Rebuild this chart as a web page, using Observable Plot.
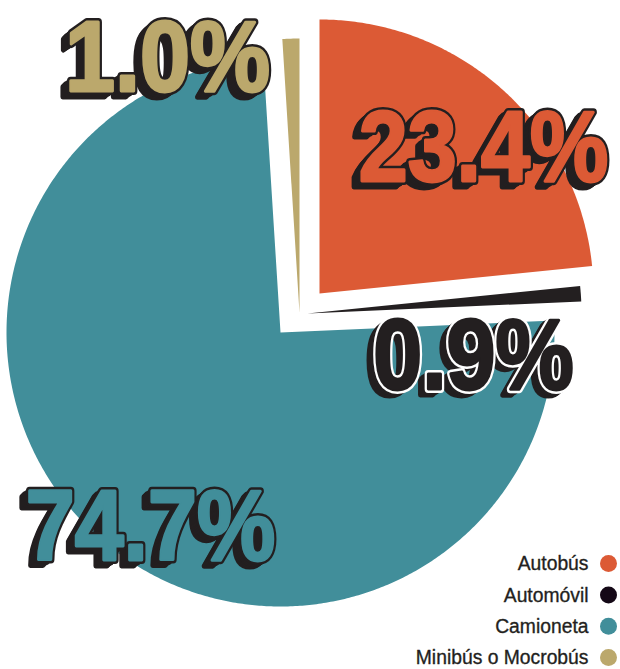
<!DOCTYPE html>
<html><head><meta charset="utf-8">
<script src="https://cdn.jsdelivr.net/npm/d3@7"></script>
<script src="https://cdn.jsdelivr.net/npm/@observablehq/plot@0.6"></script>
<style>body{margin:0;background:#fff} #chart{width:620px;height:669px}</style>
</head><body><div id="chart"></div>
<script>
// ---- data ----
const categories = ["Autobús", "Automóvil", "Camioneta", "Minibús o Mocrobús"];
const shares = [23.4, 0.9, 74.7, 1.0];
const labels = ["23.4%", "0.9%", "74.7%", "1.0%"];
const colors = ["#DC5A35", "#231F20", "#418E9A", "#BBA86C"];
const legendColors = ["#DC5A35", "#140816", "#418E9A", "#BBA86C"];

// ---- style / layout ----
const W = 620, H = 669, R = 274, CX = 280, CY = 332;
const explode = [[39, 39], [27, 19], [0, 0], [19, 20]];           // px (right, up)
const labelNudge = [[164, -145], [166, 43], [-130, 195], [-132, -254]]; // px from slice apex
const labelScale = [0.88, 0.88, 0.88, 0.9];
const labelStroke = ["#231F20", "#ffffff", "#231F20", "#231F20"];
const dark = "#231F20";
const labelFont = "'Liberation Sans', Arial, sans-serif";

const arcs = d3.pie().sort(null).value(d => d)(shares);

const marks = [];
arcs.forEach((a, i) => {
  const ox = explode[i][0] / R, oy = explode[i][1] / R;
  const pts = [{x: ox, y: oy}];
  const n = Math.max(4, Math.ceil((a.endAngle - a.startAngle) / (Math.PI / 360)));
  for (let k = 0; k <= n; k++) {
    const t = a.startAngle + (a.endAngle - a.startAngle) * k / n;
    pts.push({x: ox + Math.sin(t), y: oy + Math.cos(t)});
  }
  pts.push({x: ox, y: oy});
  marks.push(Plot.line(pts, {x: "x", y: "y", fill: colors[i], stroke: "none", curve: "linear"}));
});

// labels with extruded shadow
arcs.forEach((a, i) => {
  const ox = explode[i][0] / R, oy = explode[i][1] / R;
  const d = [{x: ox, y: oy, t: labels[i]}];
  const common = {x: "x", y: "y", text: "t", fontSize: 100, fontWeight: "bold",
    fontFamily: labelFont, textAnchor: "middle", lineAnchor: "middle", className: "biglabel" + i};
  const [nx, ny] = labelNudge[i];
  for (let k = 8; k >= 1; k--) {
    marks.push(Plot.text(d, {...common, dx: nx - k, dy: ny + k * 0.75,
      fill: dark, stroke: dark, strokeWidth: 5}));
  }
  // outline
  marks.push(Plot.text(d, {...common, dx: nx, dy: ny,
    fill: colors[i], stroke: labelStroke[i], strokeWidth: 8, paintOrder: "stroke"}));
  // thickened fill
  marks.push(Plot.text(d, {...common, dx: nx, dy: ny,
    fill: colors[i], stroke: colors[i], strokeWidth: 3}));
});

// legend (bottom right)
const rowGap = 31.3;
categories.forEach((c, i) => {
  const fromBottom = categories.length - 1 - i;
  const dy = -12 - fromBottom * rowGap;
  marks.push(Plot.text([c], {frameAnchor: "bottom-right", text: d => d, dx: -32, dy,
    textAnchor: "end", lineAnchor: "middle", fontSize: 21, fill: "#231F20",
    stroke: "#231F20", strokeWidth: 0.35,
    fontFamily: "'Liberation Sans', Arial, sans-serif", className: "legendlabel"}));
  marks.push(Plot.dot([c], {frameAnchor: "bottom-right", dx: -12, dy, r: 8.5,
    fill: legendColors[i], stroke: "none"}));
});

const chart = Plot.plot({
  width: W, height: H, margin: 0,
  x: {domain: [-CX / R, (W - CX) / R], axis: null},
  y: {domain: [-(H - CY) / R, CY / R], axis: null},
  style: {background: "#fff"},
  marks
});
// condense the typography horizontally (style only)
function squeeze(sel, s) {
  chart.querySelectorAll(sel + " text").forEach(t => {
    const tr = t.getAttribute("transform") || "";
    t.setAttribute("transform", tr + ` scale(${s} 1)`);
  });
}
labelScale.forEach((s, i) => squeeze(".biglabel" + i, s));
squeeze(".legendlabel", 0.92);
document.getElementById("chart").append(chart);
</script>
</body></html>
